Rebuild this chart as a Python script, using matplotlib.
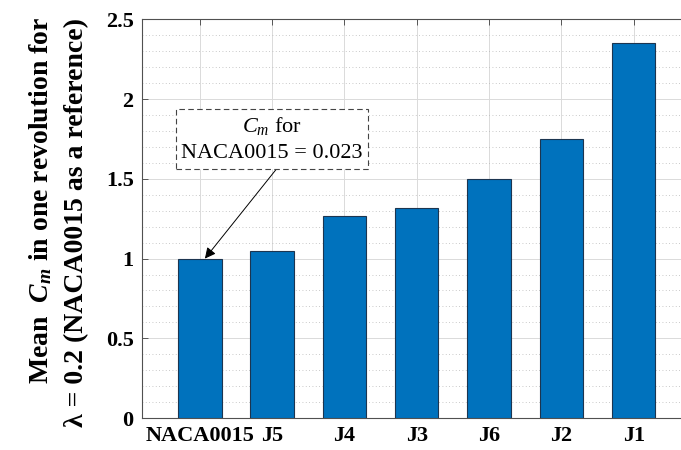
import matplotlib
matplotlib.use('Agg')
import matplotlib.pyplot as plt
import numpy as np
from matplotlib.ticker import MultipleLocator

# Mean moment coefficient per profile, normalised by NACA0015
profiles = ['NACA0015', 'J5', 'J4', 'J3', 'J6', 'J2', 'J1']
cm_ratio = [1.0, 1.05, 1.265, 1.315, 1.5, 1.75, 2.35]
cm_naca = 0.023

plt.rcParams['font.family'] = ['Liberation Serif', 'DejaVu Serif']
plt.rcParams['mathtext.fontset'] = 'custom'
plt.rcParams['mathtext.rm'] = 'Liberation Serif'
plt.rcParams['mathtext.it'] = 'Liberation Serif:italic'
plt.rcParams['mathtext.bf'] = 'Liberation Serif:italic:bold'

fig = plt.figure(figsize=(6.81, 4.5), dpi=100)
ax = fig.add_axes([0.2085, 0.0711, 0.807, 0.8856])

x = np.arange(1, len(profiles) + 1)
ax.bar(x, cm_ratio, width=0.6, color='#0072BD', edgecolor='#1c3550', linewidth=0.8, zorder=3)

ax.set_xlim(0.2, 7.8)
ax.set_ylim(0, 2.5)
ax.set_xticks(x)
ax.set_xticklabels(profiles, fontsize=16, fontweight='bold')
ax.yaxis.set_major_locator(MultipleLocator(0.5))
ax.yaxis.set_minor_locator(MultipleLocator(0.1))
ax.set_yticks([0, 0.5, 1, 1.5, 2, 2.5])
ax.set_yticklabels(['0', '0.5', '1', '1.5', '2', '2.5'], fontsize=16, fontweight='bold')

ax.tick_params(which='major', direction='in', length=4, width=0.6, color='#404040',
               top=True, right=True, pad=6)
ax.tick_params(which='minor', length=0)
ax.set_axisbelow(True)
ax.grid(which='major', color='#dadada', linewidth=0.7, zorder=0)
ax.yaxis.grid(which='minor', color='#b8b8b8', linestyle=(0, (1, 3)), linewidth=0.6, zorder=0)
for s in ax.spines.values():
    s.set_color('#505050')
    s.set_linewidth(0.8)

# two-line y label
fig.text(0.060, 0.555, r'Mean  $\mathbf{C}_{\mathbf{m}}$ in one revolution for', rotation=90,
         ha='center', va='center', fontsize=20, fontweight='bold')
fig.text(0.112, 0.505, 'λ = 0.2 (NACA0015 as a reference)', rotation=90,
         ha='center', va='center', fontsize=20, fontweight='bold')

ax.annotate('$C_m$ for\nNACA0015 = %.3f' % cm_naca, xy=(1.07, 1.0), xytext=(2.0, 1.75),
            ha='center', va='center', fontsize=16, linespacing=1.5,
            bbox=dict(boxstyle='square,pad=0.25', fc='white', ec='#444444',
                      ls=(0, (5, 3)), lw=0.8),
            arrowprops=dict(arrowstyle='-|>', color='black', lw=0.7, mutation_scale=16,
                            relpos=(0.55, 0.0), shrinkA=0, shrinkB=0),
            zorder=5)

fig.savefig('out.png', dpi=100)
